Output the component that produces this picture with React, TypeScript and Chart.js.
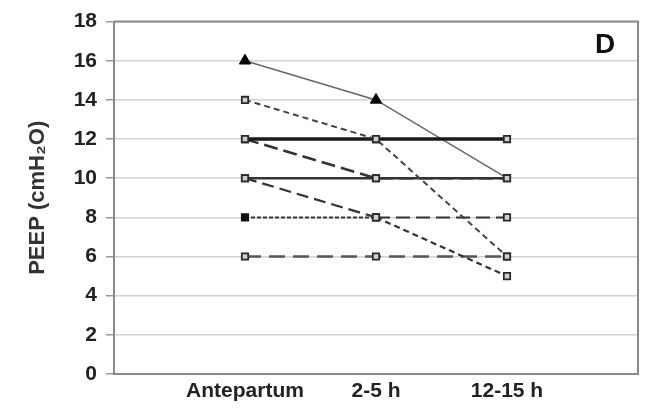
import React, { useEffect, useRef } from "react";
import { Chart, registerables } from "chart.js";

Chart.register(...registerables);

const categories = ["Antepartum", "2-5 h", "12-15 h"];
const yTicks = [0, 2, 4, 6, 8, 10, 12, 14, 16, 18];
const seriesTriangle = [16, 14, 10];
const seriesA = [14, 12, 6];
const seriesB = [12, 12, 12];
const seriesC = [12, 10, 10];
const seriesD = [10, 10, 10];
const seriesE = [10, 8, 5];
const seriesF = [8, 8, 8];
const seriesG = [6, 6, 6];
const panelLabel = "D";

const pad = (arr: number[]) => [null, ...arr, null];

const frameAndLabel = {
  id: "frameAndLabel",
  afterDatasetsDraw(chart: any) {
    const { ctx, chartArea } = chart;
    ctx.save();
    ctx.strokeStyle = "#8a8a8a";
    ctx.lineWidth = 2;
    ctx.beginPath();
    ctx.moveTo(chartArea.left, chartArea.top);
    ctx.lineTo(chartArea.right, chartArea.top);
    ctx.lineTo(chartArea.right, chartArea.bottom);
    ctx.stroke();
    ctx.fillStyle = "#111";
    ctx.font = "bold 28px 'Liberation Sans', Arial, sans-serif";
    ctx.textAlign = "center";
    ctx.textBaseline = "middle";
    ctx.fillText(panelLabel, chartArea.right - 33, chartArea.top + 24);
    ctx.restore();
  },
};

export default function App() {
  const ref = useRef<HTMLCanvasElement | null>(null);
  useEffect(() => {
    if (!ref.current) return;
    const sq = {
      pointStyle: "rect",
      pointRadius: 4.5,
      pointBackgroundColor: "#d0d0d0",
      pointBorderColor: "#2a2a2a",
      pointBorderWidth: 1.8,
      fill: false,
      tension: 0,
    };
    const chart = new Chart(ref.current, {
      type: "line",
      data: {
        labels: ["", ...categories, ""],
        datasets: [
          { ...sq, data: pad(seriesA), borderColor: "#444", borderWidth: 2, borderDash: [6, 4] },
          { ...sq, data: pad(seriesB), borderColor: "#1a1a1a", borderWidth: 3.5 },
          { ...sq, data: pad(seriesC), borderColor: "#333", borderWidth: 2.5, borderDash: [14, 6] },
          { ...sq, data: pad(seriesD), borderColor: "#333", borderWidth: 2.5 },
          { ...sq, data: pad(seriesE), borderColor: "#333", borderWidth: 2.2, borderDash: [12, 6],
            segment: { borderDash: (c: any) => (c.p0DataIndex === 1 ? [12, 6] : [6, 4]) } },
          { ...sq, data: pad(seriesF), borderColor: "#333", borderWidth: 2, borderDash: [4, 2],
            pointBackgroundColor: ["#d0d0d0", "#111", "#d0d0d0", "#d0d0d0", "#d0d0d0"],
            pointBorderColor: ["#2a2a2a", "#111", "#2a2a2a", "#2a2a2a", "#2a2a2a"],
            segment: { borderDash: (c: any) => (c.p0DataIndex === 1 ? [4, 2] : [14, 6]) } },
          { ...sq, data: pad(seriesG), borderColor: "#555", borderWidth: 2.5, borderDash: [16, 8] },
          { data: pad(seriesTriangle), borderColor: "#666", borderWidth: 1.5, pointStyle: "triangle",
            pointRadius: [0, 6.5, 6.5, 0, 0],
            pointBackgroundColor: "#000", pointBorderColor: "#000", pointBorderWidth: 1, fill: false, tension: 0 },
        ],
      },
      options: {
        animation: false,
        responsive: false,
        spanGaps: false,
        layout: { padding: { top: 19, right: 21, left: 0, bottom: 0 } },
        plugins: { legend: { display: false }, tooltip: { enabled: false }, title: { display: false } },
        scales: {
          x: {
            type: "category",
            offset: false,
            grid: { display: false, drawTicks: false },
            border: { display: true, color: "#8a8a8a", width: 2 },
            ticks: {
              color: "#222",
              padding: 5,
              maxRotation: 0,
              autoSkip: false,
              font: { family: "'Liberation Sans', Arial, sans-serif", size: 21, weight: "bold" },
            },
            afterFit: (s: any) => { s.height = 36; },
          },
          y: {
            min: 0,
            max: 18,
            afterBuildTicks: (s: any) => { s.ticks = yTicks.map((v) => ({ value: v })); },
            grid: { color: "#d2d2d2", lineWidth: 1.5, tickLength: 8, tickColor: "#999" },
            border: { display: true, color: "#8a8a8a", width: 2 },
            ticks: {
              color: "#222",
              padding: 9,
              font: { family: "'Liberation Sans', Arial, sans-serif", size: 21, weight: "bold" },
            },
            title: {
              display: true,
              text: "PEEP (cmH₂O)",
              color: "#333",
              padding: { top: 25, bottom: 0 },
              font: { family: "'Liberation Sans', Arial, sans-serif", size: 22, weight: "bold" },
            },
            afterFit: (s: any) => { s.width = 114; },
          },
        },
      },
      plugins: [frameAndLabel],
    } as any);
    return () => chart.destroy();
  }, []);
  return (
    <div style={{ position: "fixed", left: 0, top: 0, width: 659, height: 410, background: "#fff" }}>
      <canvas ref={ref} width={659} height={410} style={{ width: 659, height: 410, display: "block" }} />
    </div>
  );
}
